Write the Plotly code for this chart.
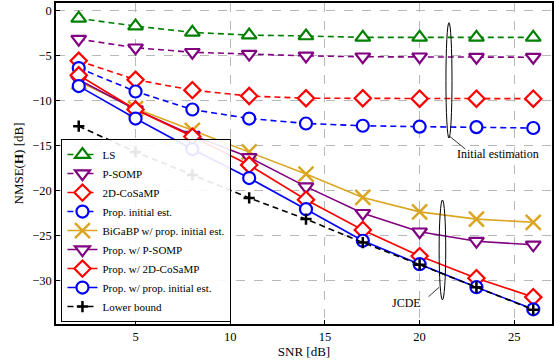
import plotly.graph_objects as go

snr = [2, 5, 8, 11, 14, 17, 20, 23, 26]

ls = [-0.9, -1.75, -2.45, -2.75, -2.85, -3.0, -3.0, -3.0, -3.0]
p_somp = [-3.2, -4.15, -4.65, -4.85, -5.05, -5.15, -5.15, -5.2, -5.2]
cosamp_2d = [-5.6, -7.7, -8.85, -9.5, -9.75, -9.75, -9.8, -9.8, -9.8]
prop_init = [-6.4, -9.0, -11.0, -12.0, -12.55, -12.8, -12.9, -12.95, -13.05]
bigabp = [-7.9, -10.9, -13.3, -15.7, -18.15, -20.75, -22.35, -23.15, -23.5]
prop_psomp = [-7.7, -11.0, -13.85, -16.3, -19.55, -22.5, -24.55, -25.6, -26.0]
prop_cosamp = [-7.2, -11.0, -14.0, -17.15, -21.0, -24.35, -27.25, -29.7, -31.8]
prop_prop = [-8.4, -12.0, -15.4, -18.6, -22.05, -25.55, -28.15, -30.7, -33.15]
lower_bound = [-12.85, -15.7, -18.25, -20.8, -23.15, -25.75, -28.2, -30.7, -33.2]

x_ticks = [5, 10, 15, 20, 25]
y_ticks = [0, -5, -10, -15, -20, -25, -30]

series = [
    ("LS", ls, "#008000", "dash", "triangle-up", 13),
    ("P-SOMP", p_somp, "#800080", "dash", "triangle-down", 13),
    ("2D-CoSaMP", cosamp_2d, "#ff0000", "dash", "diamond", 12.5),
    ("Prop. initial est.", prop_init, "#0000ff", "dash", "circle", 12),
    ("BiGaBP w/ prop. initial est.", bigabp, "#DAA520", "solid", "x-thin", 15),
    ("Prop. w/ P-SOMP", prop_psomp, "#800080", "solid", "triangle-down", 13),
    ("Prop. w/ 2D-CoSaMP", prop_cosamp, "#ff0000", "solid", "diamond", 12.5),
    ("Prop. w/ prop. initial est.", prop_prop, "#0000ff", "solid", "circle", 12),
    ("Lower bound", lower_bound, "#000000", "dash", "cross-thin", 8),
]

FONT = "Liberation Serif"

fig = go.Figure()
for name, vals, color, dash, sym, size in series:
    thin = sym.endswith("-thin")
    fig.add_trace(go.Scatter(
        x=snr, y=vals, name=name, mode="lines+markers",
        line=dict(color=color, width=1.6, dash="6px,4px" if dash == "dash" else "solid"),
        marker=dict(symbol=sym, size=size, color=color if thin else "white",
                    line=dict(color=color, width=2.5 if thin else 2.2)),
    ))

axis_common = dict(
    showline=True, linecolor="black", linewidth=1.6, mirror=True,
    ticks="inside", ticklen=4, tickwidth=1, tickcolor="black",
    showgrid=True, gridcolor="#b8b8b8", gridwidth=0.8, griddash="dash",
    zeroline=False, tickfont=dict(family=FONT, size=12.5, color="black"),
)

fig.update_xaxes(range=[0.8, 26.99], tickvals=x_ticks,
                 title=dict(text="SNR [dB]", font=dict(family=FONT, size=13, color="black"), standoff=4),
                 **axis_common)
fig.update_yaxes(range=[-34.78, 0.81], tickvals=y_ticks,
                 title=dict(text="NMSE(<b>H</b>) [dB]", font=dict(family=FONT, size=13, color="black"), standoff=6),
                 **axis_common)

# annotation ellipses
fig.add_shape(type="circle", xref="x", yref="y", x0=21.39, x1=21.71, y0=-14.16, y1=-1.37,
              line=dict(color="black", width=1))
fig.add_shape(type="line", xref="x", yref="y", x0=21.6, y0=-14.0, x1=22.41, y1=-15.38,
              line=dict(color="black", width=0.8))
fig.add_annotation(x=24.15, y=-15.93, xref="x", yref="y", text="Initial estimation", showarrow=False,
                   font=dict(family=FONT, size=12, color="black"))
fig.add_shape(type="circle", xref="x", yref="y", x0=21.03, x1=21.38, y0=-32.1, y1=-21.03,
              line=dict(color="black", width=1))
fig.add_shape(type="line", xref="x", yref="y", x0=21.03, y0=-30.71, x1=20.47, y1=-31.75,
              line=dict(color="black", width=0.8))
fig.add_annotation(x=19.31, y=-32.42, xref="x", yref="y", text="JCDE", showarrow=False,
                   font=dict(family=FONT, size=12, color="black"))

fig.update_layout(
    width=554, height=362,
    margin=dict(l=55.5, r=0, t=3, b=38),
    plot_bgcolor="white", paper_bgcolor="white",
    font=dict(family=FONT, size=12, color="black"),
    legend=dict(x=0.011, y=0.006, xanchor="left", yanchor="bottom",
                bgcolor="rgba(255,255,255,0.9)", bordercolor="black", borderwidth=1,
                font=dict(family=FONT, size=11, color="black"),
                tracegroupgap=0, itemwidth=30),
    showlegend=True,
)

fig.write_html("out.html", config={"displayModeBar": False},
               post_script="document.body.style.margin='0';")
